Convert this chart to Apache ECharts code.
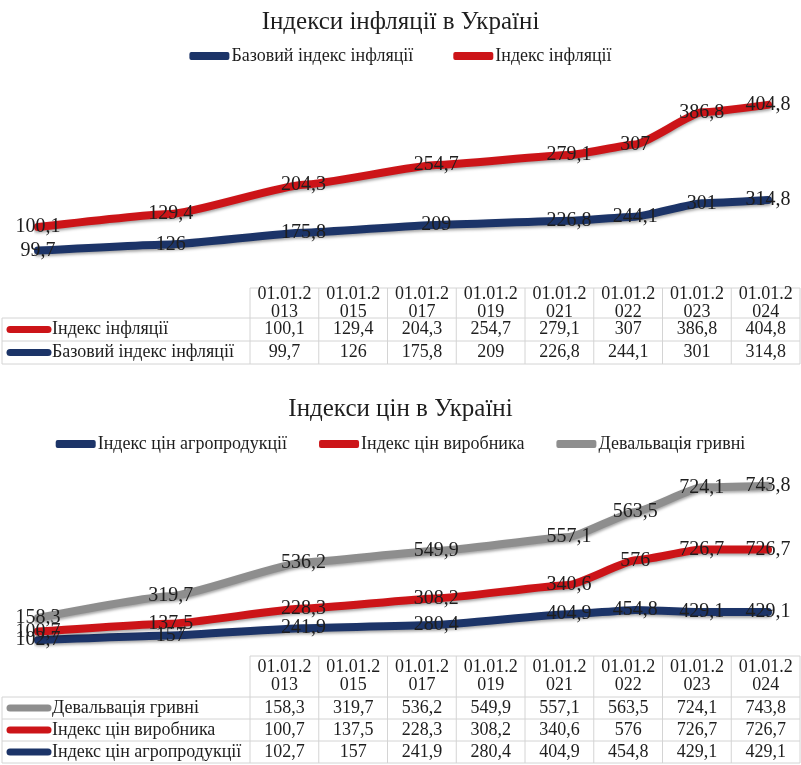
<!DOCTYPE html>
<html>
<head>
<meta charset="utf-8">
<script src="https://cdn.jsdelivr.net/npm/echarts@6/dist/echarts.min.js"></script>
<style>
  html, body { margin:0; padding:0; background:#fff; }
  #main { width:801px; height:765px; }
</style>
</head>
<body>
<div id="main"></div>
<script type="text/javascript">
    // дати (заголовки стовпців таблиць)
    var dates = ['01.01.2013','01.01.2015','01.01.2017','01.01.2019','01.01.2021','01.01.2022','01.01.2023','01.01.2024'];
    // графік 1
    var inflation = [100.1, 129.4, 204.3, 254.7, 279.1, 307, 386.8, 404.8];
    var coreInflation = [99.7, 126, 175.8, 209, 226.8, 244.1, 301, 314.8];
    // графік 2
    var devaluation = [158.3, 319.7, 536.2, 549.9, 557.1, 563.5, 724.1, 743.8];
    var producerPrices = [100.7, 137.5, 228.3, 308.2, 340.6, 576, 726.7, 726.7];
    var agroPrices = [102.7, 157, 241.9, 280.4, 404.9, 454.8, 429.1, 429.1];

    var BLUE = '#1c3468', RED = '#cc1418', GRAY = '#8e8e8e';
    var FONT = "'Liberation Serif', 'DejaVu Serif', serif";
    var TXT = '#1e1e1e';

    function fmt(v) { return String(v).replace('.', ','); }
    function isoDate(d) { return d.slice(6) + '-' + d.slice(3, 5) + '-' + d.slice(0, 2); }
    function points(vals) {
        return vals.map(function (v, i) { return [isoDate(dates[i]), v]; });
    }

    function lineSeries(name, vals, color, idx) {
        return {
            name: name,
            type: 'line',
            stack: 'st' + idx,
            xAxisIndex: idx, yAxisIndex: idx,
            data: points(vals),
            smooth: 0.15,
            smoothMonotone: 'x',
            symbol: 'circle',
            symbolSize: 1,
            itemStyle: { color: color },
            lineStyle: { width: 8, color: color, cap: 'round', join: 'round',
                shadowColor: 'rgba(0,0,0,0.35)', shadowBlur: 3, shadowOffsetY: 2 },
            label: {
                show: true, position: 'inside', color: TXT,
                fontFamily: FONT, fontSize: 20,
                formatter: function (p) { return fmt(p.value[1]); }
            },
            emphasis: { disabled: true },
            animation: false
        };
    }

    // таблиця даних під графіком
    var colLeft = 250, colW = 68.75, labelLeft = 2, tableRight = 800;
    function table(top, headH, rowH, rows) {
        var els = [];
        var bottom = top + headH + rowH * rows.length;
        var border = { stroke: '#d4d4d4', lineWidth: 1 };
        els.push({ type: 'line', shape: { x1: colLeft, y1: top, x2: tableRight, y2: top }, style: border });
        for (var c = 0; c <= dates.length; c++) {
            var x = colLeft + c * colW;
            els.push({ type: 'line', shape: { x1: x, y1: top, x2: x, y2: bottom }, style: border });
        }
        els.push({ type: 'line', shape: { x1: labelLeft, y1: top + headH, x2: labelLeft, y2: bottom }, style: border });
        for (var r = 0; r <= rows.length; r++) {
            var y = top + headH + r * rowH;
            els.push({ type: 'line', shape: { x1: labelLeft, y1: y, x2: tableRight, y2: y }, style: border });
        }
        dates.forEach(function (d, i) {
            els.push({ type: 'text', x: colLeft + (i + 0.5) * colW, y: top + headH / 2,
                style: { text: d.slice(0, 7) + '\n' + d.slice(7), fill: TXT, font: '18px ' + FONT,
                    align: 'center', verticalAlign: 'middle', lineHeight: 18 } });
        });
        rows.forEach(function (row, r) {
            var cy = top + headH + (r + 0.5) * rowH;
            els.push({ type: 'line', shape: { x1: 10, y1: cy, x2: 48, y2: cy },
                style: { stroke: row.color, lineWidth: 7, lineCap: 'round' } });
            els.push({ type: 'text', x: 52, y: cy,
                style: { text: row.name, fill: TXT, font: '18px ' + FONT, align: 'left', verticalAlign: 'middle' } });
            row.values.forEach(function (v, i) {
                els.push({ type: 'text', x: colLeft + (i + 0.5) * colW, y: cy,
                    style: { text: fmt(v), fill: TXT, font: '18px ' + FONT, align: 'center', verticalAlign: 'middle' } });
            });
        });
        return els;
    }

    var legendCommon = {
        icon: 'roundRect', itemWidth: 40, itemHeight: 8,
        textStyle: { fontFamily: FONT, fontSize: 18, color: TXT, padding: [0, 0, 0, -3] },
        selectedMode: false
    };

    var chart = echarts.init(document.getElementById('main'));
    var option = {
        backgroundColor: '#fff',
        animation: false,
        title: [
            { text: 'Індекси інфляції в Україні', left: 'center', top: 5,
                textStyle: { fontFamily: FONT, fontSize: 25, fontWeight: 'normal', color: TXT } },
            { text: 'Індекси цін в Україні', left: 'center', top: 392,
                textStyle: { fontFamily: FONT, fontSize: 25, fontWeight: 'normal', color: TXT } }
        ],
        legend: [
            Object.assign({ top: 42, left: 'center', itemGap: 40,
                data: ['Базовий індекс інфляції', 'Індекс інфляції'] }, legendCommon),
            Object.assign({ top: 430, left: 'center', itemGap: 32,
                data: ['Індекс цін агропродукції', 'Індекс цін виробника', 'Девальвація гривні'] }, legendCommon)
        ],
        grid: [
            { left: 38, right: 33, top: 86, height: 188 },
            { left: 38, right: 33, top: 477, height: 172 }
        ],
        xAxis: [
            { type: 'time', gridIndex: 0, min: isoDate(dates[0]), max: isoDate(dates[dates.length - 1]), show: false },
            { type: 'time', gridIndex: 1, min: isoDate(dates[0]), max: isoDate(dates[dates.length - 1]), show: false }
        ],
        yAxis: [
            { type: 'value', gridIndex: 0, min: 0, max: 800, show: false },
            { type: 'value', gridIndex: 1, min: 0, max: 2000, show: false }
        ],
        series: [
            lineSeries('Базовий індекс інфляції', coreInflation, BLUE, 0),
            lineSeries('Індекс інфляції', inflation, RED, 0),
            lineSeries('Індекс цін агропродукції', agroPrices, BLUE, 1),
            lineSeries('Індекс цін виробника', producerPrices, RED, 1),
            lineSeries('Девальвація гривні', devaluation, GRAY, 1)
        ],
        graphic: table(288, 30, 23, [
            { name: 'Індекс інфляції', color: RED, values: inflation },
            { name: 'Базовий індекс інфляції', color: BLUE, values: coreInflation }
        ]).concat(table(656, 41, 22, [
            { name: 'Девальвація гривні', color: GRAY, values: devaluation },
            { name: 'Індекс цін виробника', color: RED, values: producerPrices },
            { name: 'Індекс цін агропродукції', color: BLUE, values: agroPrices }
        ]))
    };
    chart.setOption(option);
</script>
</body>
</html>
